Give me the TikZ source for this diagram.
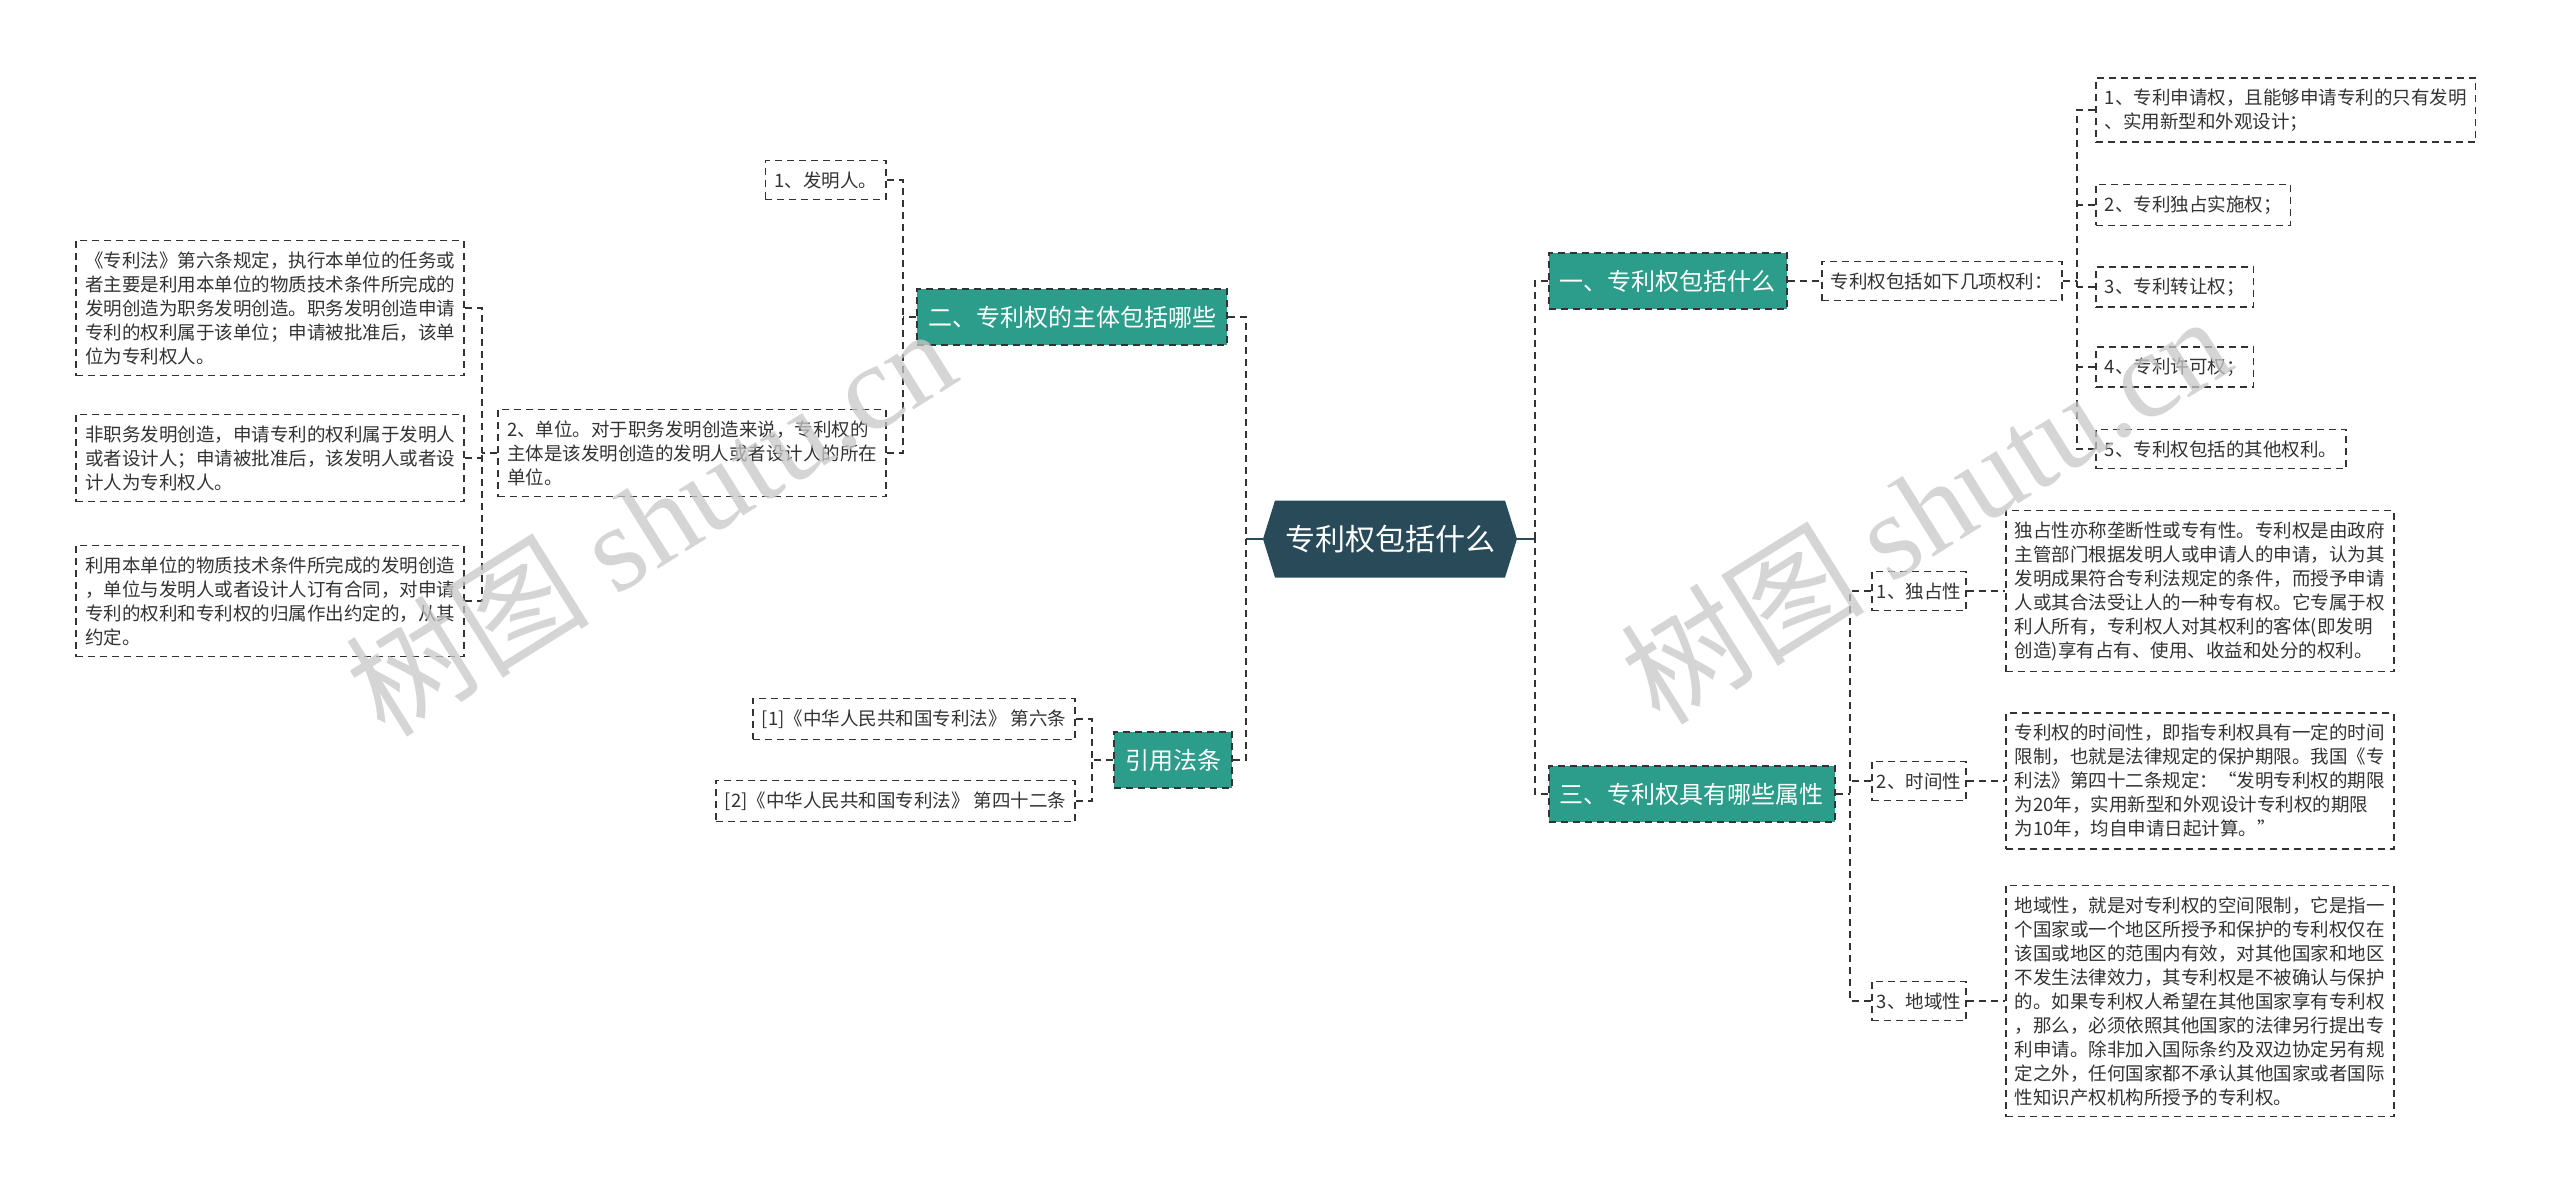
\documentclass[tikz,border=0pt]{standalone}
\usepackage{fontspec}
\newfontfamily\cjk{Noto Sans CJK SC}
\newfontfamily\wmlatin{Liberation Serif}
\usetikzlibrary{calc}
\definecolor{tealc}{HTML}{2C9D8A}
\definecolor{rootc}{HTML}{294A59}
\definecolor{linec}{HTML}{333333}
\definecolor{txtc}{HTML}{333333}
\begin{document}
\begin{tikzpicture}[x=1pt,y=-1pt,
  conn/.style={draw=linec, line width=1.6pt, dash pattern=on 7pt off 5pt},
  leaf/.style={draw=linec, line width=1.6pt, dash pattern=on 7pt off 5pt,
    font=\cjk\fontsize{18.5}{24}\selectfont, text=txtc, align=left,
    inner xsep=9pt, inner ysep=11pt},
  branch/.style={fill=tealc, draw=linec, line width=1.6pt, dash pattern=on 7pt off 5pt,
    font=\cjk\fontsize{24}{30}\selectfont, text=white, inner xsep=11pt,
    minimum height=56pt},
  rootlink/.style={draw=rootc, line width=2pt},
  wm/.style={text=black!22, opacity=0.75, font=\cjk\fontsize{122}{130}\selectfont, rotate=32}
]
\fill[white] (0,0) rectangle (2560,1197);
\useasboundingbox (0,0) rectangle (2560,1197);

% root
\coordinate (rc) at (1390,539);
\fill[rootc] ($(rc)+(-127,0)$) -- ($(rc)+(-115,-38.5)$) -- ($(rc)+(115,-38.5)$)
  -- ($(rc)+(127,0)$) -- ($(rc)+(115,38.5)$) -- ($(rc)+(-115,38.5)$) -- cycle;
\node[font=\cjk\fontsize{30}{36}\selectfont, text=white, minimum width=254pt,
  minimum height=77pt, inner sep=0pt] (root) at (rc) {专利权包括什么};

% branches
\node[branch, anchor=west] (b1) at (1548,281) {一、专利权包括什么};
\node[branch, anchor=west] (b3) at (1548,794) {三、专利权具有哪些属性};
\node[branch, anchor=east] (b2) at (1228,317) {二、专利权的主体包括哪些};
\node[branch, anchor=east] (b4) at (1233,760) {引用法条};

% right: branch 1
\node[leaf, anchor=west] (t1) at (1821,281) {专利权包括如下几项权利：};
\node[leaf, anchor=west] (r1) at (2095,110) {1、专利申请权，且能够申请专利的只有发明\\、实用新型和外观设计；};
\node[leaf, anchor=west] (r2) at (2095,205) {2、专利独占实施权；};
\node[leaf, anchor=west] (r3) at (2095,287) {3、专利转让权；};
\node[leaf, anchor=west] (r4) at (2095,367) {4、专利许可权；};
\node[leaf, anchor=west] (r5) at (2095,449) {5、专利权包括的其他权利。};

% right: branch 3
\node[leaf, anchor=west, inner xsep=5pt] (a1) at (1871,591) {1、独占性};
\node[leaf, anchor=west, inner xsep=5pt] (a2) at (1871,781) {2、时间性};
\node[leaf, anchor=west, inner xsep=5pt] (a3) at (1871,1001) {3、地域性};
\node[leaf, anchor=west] (d1) at (2005,591) {独占性亦称垄断性或专有性。专利权是由政府\\主管部门根据发明人或申请人的申请，认为其\\发明成果符合专利法规定的条件，而授予申请\\人或其合法受让人的一种专有权。它专属于权\\利人所有，专利权人对其权利的客体(即发明\\创造)享有占有、使用、收益和处分的权利。};
\node[leaf, anchor=west] (d2) at (2005,781) {专利权的时间性，即指专利权具有一定的时间\\限制，也就是法律规定的保护期限。我国《专\\利法》第四十二条规定：“发明专利权的期限\\为20年，实用新型和外观设计专利权的期限\\为10年，均自申请日起计算。”};
\node[leaf, anchor=west] (d3) at (2005,1001) {地域性，就是对专利权的空间限制，它是指一\\个国家或一个地区所授予和保护的专利权仅在\\该国或地区的范围内有效，对其他国家和地区\\不发生法律效力，其专利权是不被确认与保护\\的。如果专利权人希望在其他国家享有专利权\\，那么，必须依照其他国家的法律另行提出专\\利申请。除非加入国际条约及双边协定另有规\\定之外，任何国家都不承认其他国家或者国际\\性知识产权机构所授予的专利权。};

% left: branch 2
\node[leaf, anchor=east] (l1) at (887,180) {1、发明人。};
\node[leaf, anchor=east] (l2) at (887,453) {2、单位。对于职务发明创造来说，专利权的\\主体是该发明创造的发明人或者设计人的所在\\单位。};
\node[leaf, anchor=east] (ll1) at (465,308) {《专利法》第六条规定，执行本单位的任务或\\者主要是利用本单位的物质技术条件所完成的\\发明创造为职务发明创造。职务发明创造申请\\专利的权利属于该单位；申请被批准后，该单\\位为专利权人。};
\node[leaf, anchor=east] (ll2) at (465,458) {非职务发明创造，申请专利的权利属于发明人\\或者设计人；申请被批准后，该发明人或者设\\计人为专利权人。};
\node[leaf, anchor=east] (ll3) at (465,601) {利用本单位的物质技术条件所完成的发明创造\\，单位与发明人或者设计人订有合同，对申请\\专利的权利和专利权的归属作出约定的，从其\\约定。};

% left: branch 4
\node[leaf, anchor=east] (c1) at (1076,719) {[1]《中华人民共和国专利法》 第六条};
\node[leaf, anchor=east] (c2) at (1076,801) {[2]《中华人民共和国专利法》 第四十二条};

% trunk coordinates
\coordinate (tl0) at (1246,539);
\coordinate (tr0) at (1535,539);
\coordinate (tb2) at (903,317);
\coordinate (tl2) at (482,453);
\coordinate (tb4) at (1092,760);
\coordinate (tt1) at (2077,281);
\coordinate (tb3) at (1850,794);

% connectors
\draw[rootlink] (root.west) -- (tl0);
\draw[rootlink] (root.east) -- (tr0);
\draw[conn] (b2.east) -| (tl0);
\draw[conn] (b4.east) -| (tl0);
\draw[conn] (b1.west) -| (tr0);
\draw[conn] (b3.west) -| (tr0);

\draw[conn] (b1.east) -- (t1.west);
\draw[conn] (t1.east) -- (tt1);
\draw[conn] (r1.west) -| (tt1);
\draw[conn] (r5.west) -| (tt1);
\draw[conn] (r2.west) -- (r2.west -| tt1);
\draw[conn] (r3.west) -- (r3.west -| tt1);
\draw[conn] (r4.west) -- (r4.west -| tt1);

\draw[conn] (b3.east) -- (tb3);
\draw[conn] (a1.west) -| (tb3);
\draw[conn] (a3.west) -| (tb3);
\draw[conn] (a2.west) -- (a2.west -| tb3);
\draw[conn] (a1.east) -- (d1.west);
\draw[conn] (a2.east) -- (d2.west);
\draw[conn] (a3.east) -- (d3.west);

\draw[conn] (b2.west) -- (tb2);
\draw[conn] (l1.east) -| (tb2);
\draw[conn] (l2.east) -| (tb2);
\draw[conn] (l2.west) -- (tl2);
\draw[conn] (ll1.east) -| (tl2);
\draw[conn] (ll3.east) -| (tl2);
\draw[conn] (ll2.east) -- (ll2.east -| tl2);

\draw[conn] (b4.west) -- (tb4);
\draw[conn] (c1.east) -| (tb4);
\draw[conn] (c2.east) -| (tb4);

% watermarks
\node[wm] (wm1) at (650,520) {树图 {\wmlatin shutu.cn}};
\node[wm] (wm2) at (1925,508) {树图 {\wmlatin shutu.cn}};
\end{tikzpicture}
\end{document}
